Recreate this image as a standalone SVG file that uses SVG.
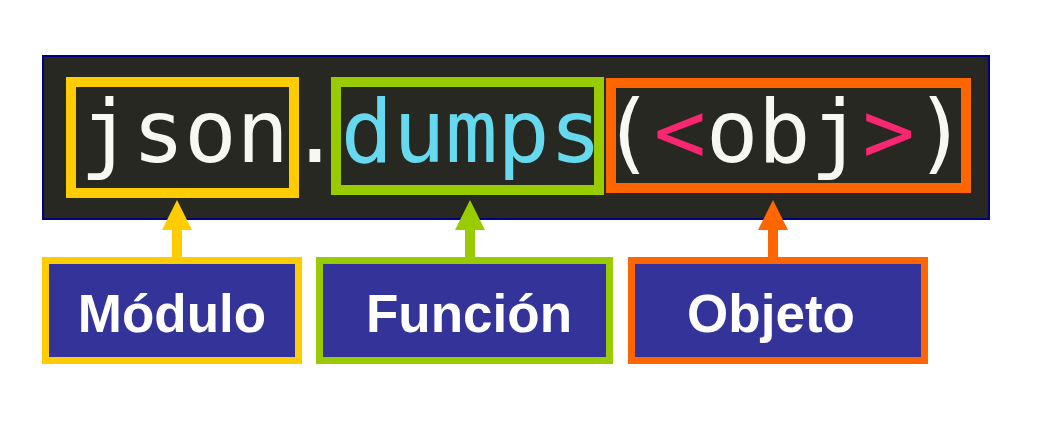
<svg xmlns="http://www.w3.org/2000/svg" width="1044" height="428" viewBox="0 0 1044 428">
<style>
.code{font-family:"DejaVu Sans Mono","Liberation Mono",monospace;font-size:87px;fill:#f8f8f2}
.hl{fill:none;stroke-width:10}
.lbl{fill:#333399;stroke-width:7}
.lt{font-family:"Liberation Sans",Arial,sans-serif;font-weight:bold;font-size:53px;fill:#ffffff;text-anchor:middle}
</style>
<rect width="1044" height="428" fill="#ffffff"/>
<g id="code">
<rect x="43" y="56" width="946" height="163" fill="#272822" stroke="#000080" stroke-width="2"/>
<text class="code" x="80" y="162" textLength="887" lengthAdjust="spacing">json.<tspan fill="#66d9ef">dumps</tspan>(<tspan fill="#f92672">&lt;</tspan>obj<tspan fill="#f92672">&gt;</tspan>)</text>
</g>
<g id="hl-modulo"><rect class="hl" x="71" y="82" width="223" height="111" stroke="#ffcc00"/></g>
<g id="hl-funcion"><rect class="hl" x="336" y="82" width="263" height="108" stroke="#99cc00"/></g>
<g id="hl-objeto"><rect class="hl" x="611" y="83" width="355" height="105" stroke="#ff6600"/></g>
<g id="connectors">
<rect x="172" y="228" width="10" height="30" fill="#ffcc00"/>
<polygon points="177,200 192,230 162,230" fill="#ffcc00"/>
<rect x="465" y="228" width="10" height="30" fill="#99cc00"/>
<polygon points="470,200 485,230 455,230" fill="#99cc00"/>
<rect x="768" y="228" width="10" height="30" fill="#ff6600"/>
<polygon points="773,200 788,230 758,230" fill="#ff6600"/>
</g>
<g id="modulo"><rect class="lbl" x="45.5" y="260.5" width="253" height="100" stroke="#ffcc00"/><text class="lt" x="172" y="332">Módulo</text></g>
<g id="funcion"><rect class="lbl" x="319.5" y="260.5" width="290" height="100" stroke="#99cc00"/><text class="lt" x="469" y="332">Función</text></g>
<g id="objeto"><rect class="lbl" x="631.5" y="260.5" width="293" height="100" stroke="#ff6600"/><text class="lt" x="771" y="332">Objeto</text></g>
</svg>
